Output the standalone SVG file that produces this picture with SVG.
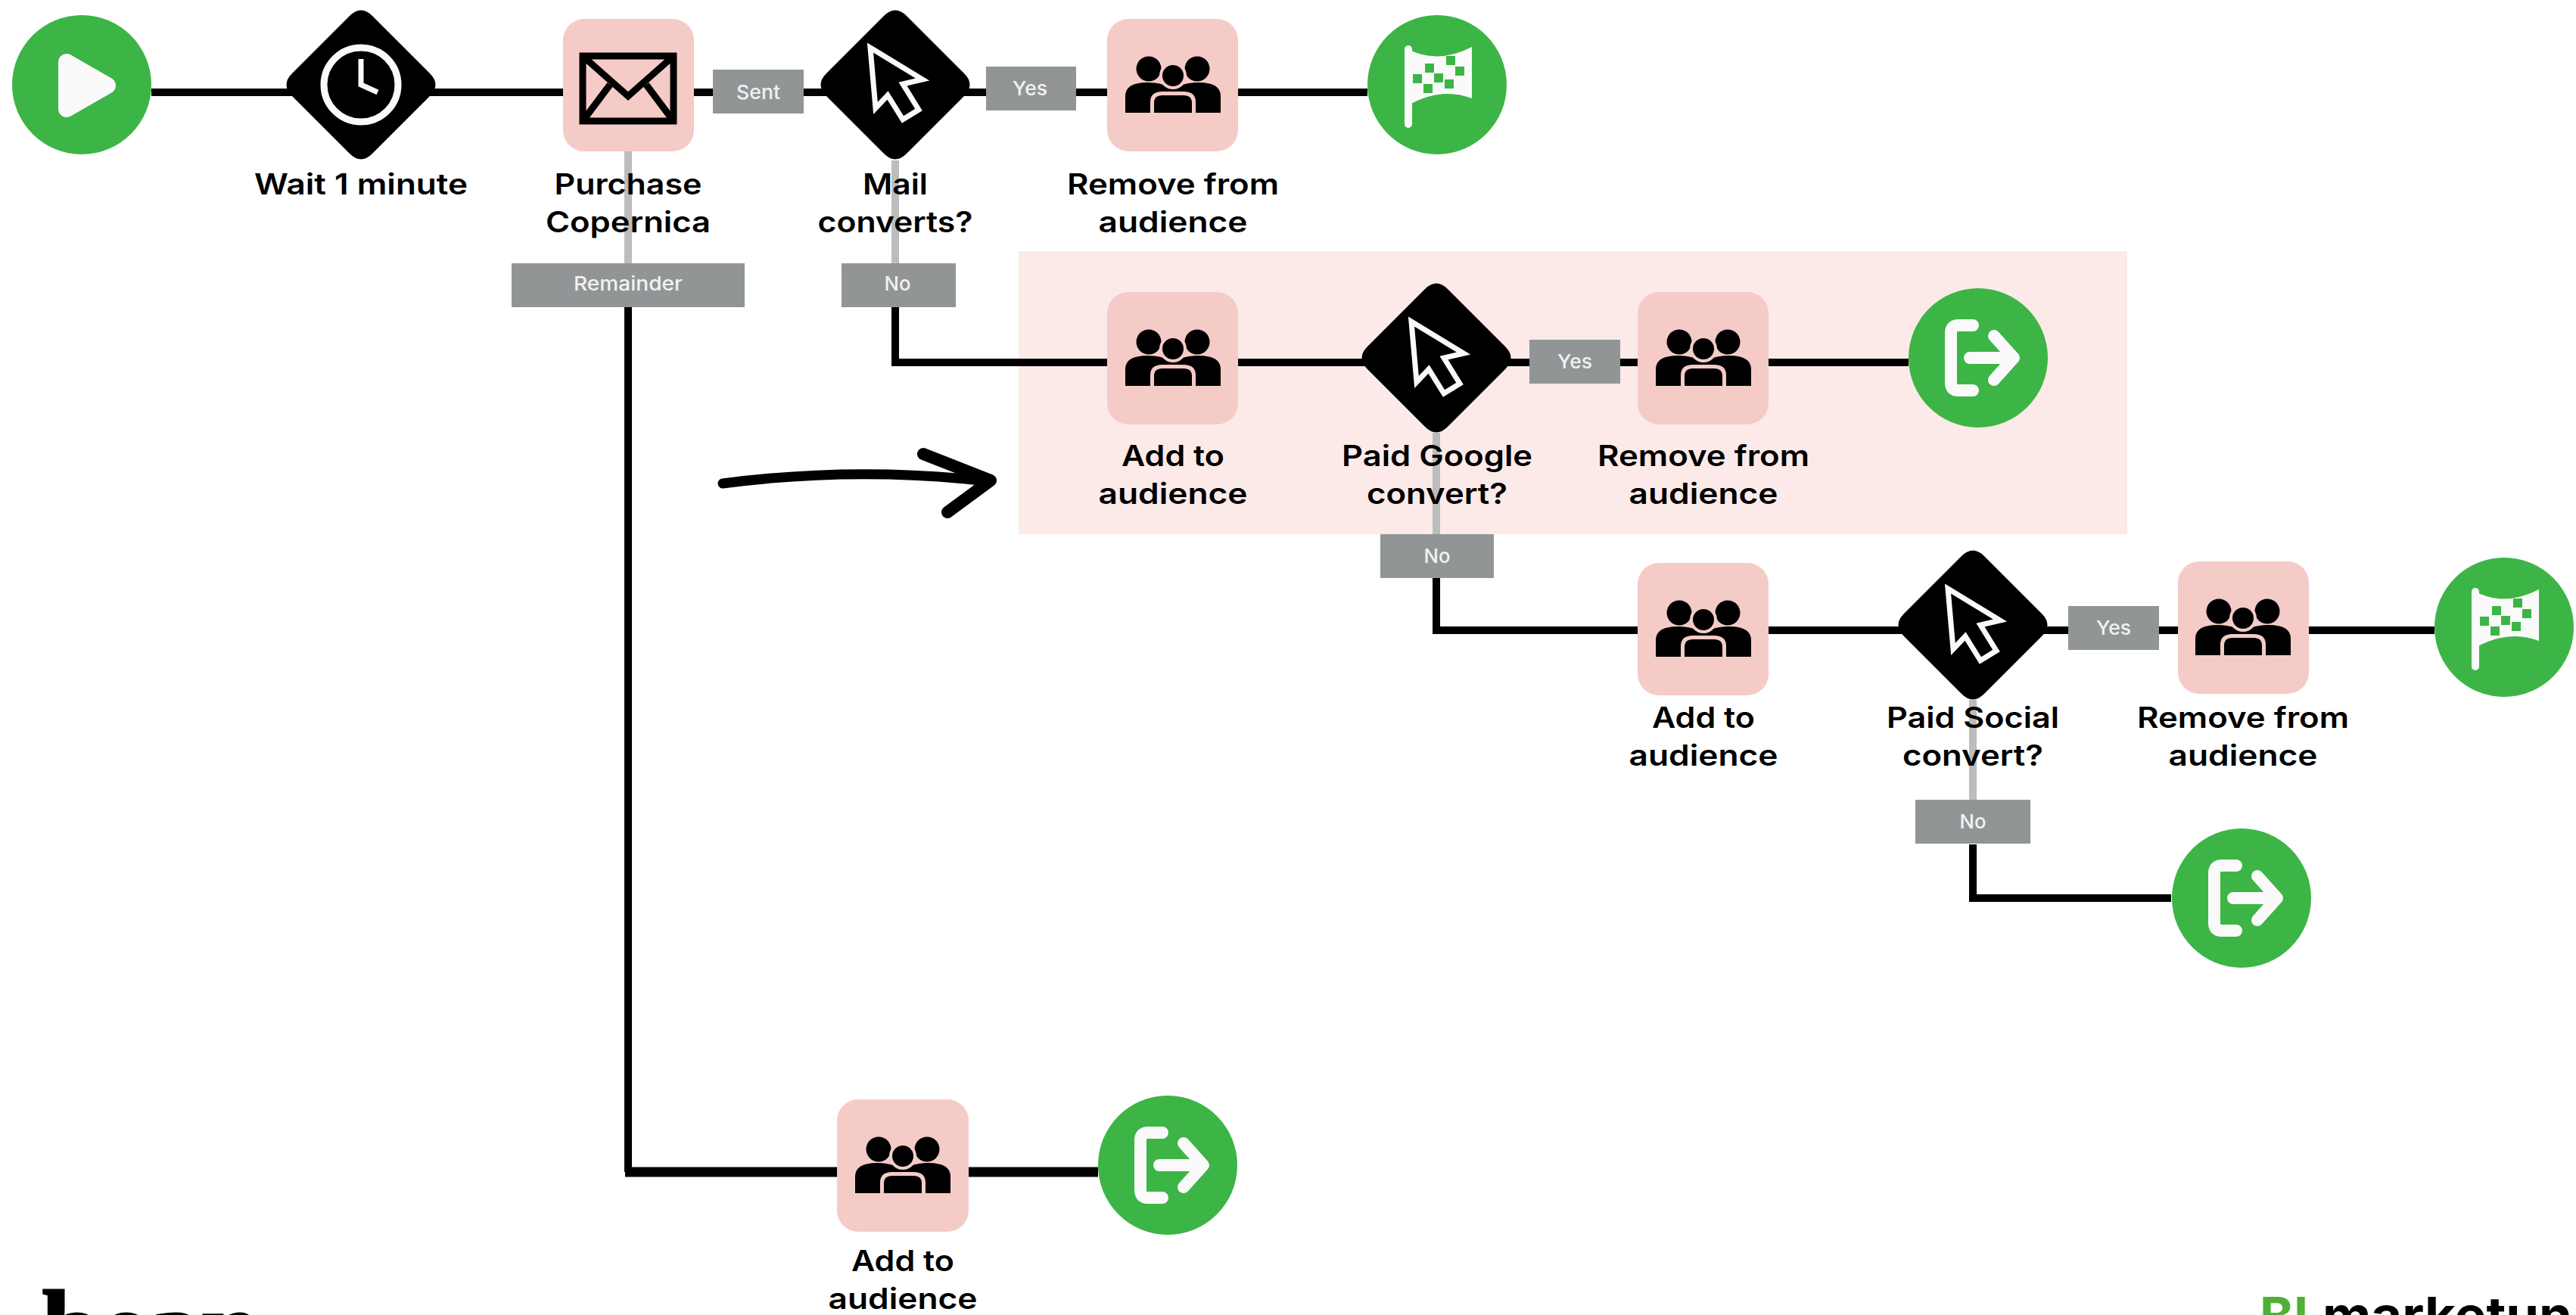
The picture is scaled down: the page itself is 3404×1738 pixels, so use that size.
<svg xmlns="http://www.w3.org/2000/svg" width="3404" height="1738" viewBox="0 0 3404 1738">
<style>
.lbl{font-family:"Inter","Liberation Sans",sans-serif;font-weight:600;font-size:38px;fill:#000;text-anchor:middle}
.tag{font-family:"Inter","Liberation Sans",sans-serif;font-weight:500;font-size:26px;fill:#f2f2f2;text-anchor:middle}
.box{fill:#919596}
.act{fill:#f5cbc7}
.go{fill:#3cb546}
.k{fill:none;stroke:#000;stroke-width:10}
.g{fill:none;stroke:#bcbcbc;stroke-width:10}
.w{fill:none;stroke:#fafafa;stroke-linecap:round;stroke-linejoin:round}
</style>
<defs>
<path id="dia" d="M-15,-91Q0,-106 15,-91L91,-15Q106,0 91,15L15,91Q0,106 -15,91L-91,15Q-106,0 -91,-15Z" fill="#000"/>
<g id="people" fill="#000">
<circle cx="-32" cy="-22" r="16.500"/><circle cx="32" cy="-22" r="16.500"/>
<path d="M-63,36V14Q-63,-4 -34,-4Q-20,-4 -10,0L10,0Q20,-4 34,-4Q63,-4 63,14V36Z"/>
<path d="M-30,38V22Q-30,8 -14,8H14Q30,8 30,22V38Z" fill="#f5cbc7"/>
<path d="M-25,36V23Q-25,13 -14,13H14Q25,13 25,23V36Z"/>
<circle cx="0" cy="-13" r="16" stroke="#f5cbc7" stroke-width="4"/>
</g>
<path id="cursor" d="M-33,-49L36,-7L10,-1L31,33L10,46L-10,14L-26,31Z" fill="#000" stroke="#fafafa" stroke-width="7" stroke-linejoin="miter"/>
<g id="exit"><path class="w" stroke-width="16" d="M-7,-43H-26Q-36,-43 -36,-33V33Q-36,43 -26,43H-7"/><path class="w" stroke-width="16" d="M-11,0H46M21,-29L47,0L21,29"/></g>
<g id="flag"><path d="M-38,-47V52" class="w" stroke-width="10"/><path d="M-40,-48Q0,-26 46,-50V18Q5,2 -40,28Z" fill="#fafafa"/>
<g fill="#3cb546"><rect x="-16" y="-28" width="12" height="12"/><rect x="-32" y="-14" width="12" height="12"/><rect x="-18" y="-1" width="12" height="12"/><rect x="-4" y="-15" width="12" height="12"/><rect x="12" y="-38" width="12" height="12"/><rect x="24" y="-24" width="12" height="12"/><rect x="10" y="-7" width="12" height="12"/></g></g>
</defs>
<rect width="3404" height="1738" fill="#fff"/>
<rect x="1346" y="332" width="1465" height="374" fill="#fbeae8"/>
<g id="connectors">
<path class="k" d="M200,122H744M917,122H1463M1636,122H1807"/>
<path class="g" d="M830,200V348M1183,212V348M1898,572V706M2607,925V1057"/>
<path class="k" d="M830,406V1549"/>
<path class="k" style="stroke-width:13" d="M826,1549H1451"/>
<path class="k" d="M1183,406V479H2522"/>
<path class="k" d="M1898,764V833H3217"/>
<path class="k" d="M2607,1116V1187H2869"/>
</g>
<g id="start"><circle class="go" cx="108" cy="112" r="92"/><path d="M88,82V144L142,113Z" fill="#fafafa" stroke="#fafafa" stroke-width="22" stroke-linejoin="round"/></g>
<g id="wait"><use href="#dia" x="477" y="112"/><circle cx="477" cy="112" r="49" fill="none" stroke="#fafafa" stroke-width="9"/><path d="M477,78V112L499,122" fill="none" stroke="#fafafa" stroke-width="7"/><text class="lbl" x="477" y="257" textLength="282" lengthAdjust="spacingAndGlyphs">Wait 1 minute</text></g>
<g id="purchase"><rect class="act" x="744" y="25" width="173" height="175" rx="28"/><path d="M770,74H890V160H770ZM770,74L830,127L890,74M770,160L806,112M890,160L854,112" fill="none" stroke="#000" stroke-width="9"/><text class="lbl" x="830" y="257" textLength="195" lengthAdjust="spacingAndGlyphs">Purchase</text><text class="lbl" x="830" y="307" textLength="218" lengthAdjust="spacingAndGlyphs">Copernica</text></g>
<g id="tag-sent"><rect class="box" x="942" y="92" width="120" height="58"/><text class="tag" x="1002" y="131" textLength="58" lengthAdjust="spacingAndGlyphs">Sent</text></g>
<g id="tag-remainder"><rect class="box" x="676" y="348" width="308" height="58"/><text class="tag" x="830" y="384" textLength="144" lengthAdjust="spacingAndGlyphs">Remainder</text></g>
<g id="mail"><use href="#dia" x="1183" y="112"/><use href="#cursor" x="1183" y="112"/><text class="lbl" x="1183" y="257" textLength="86" lengthAdjust="spacingAndGlyphs">Mail</text><text class="lbl" x="1183" y="307" textLength="205" lengthAdjust="spacingAndGlyphs">converts?</text></g>
<g id="tag-yes1"><rect class="box" x="1303" y="88" width="119" height="58"/><text class="tag" x="1361" y="126" textLength="46" lengthAdjust="spacingAndGlyphs">Yes</text></g>
<g id="tag-no1"><rect class="box" x="1112" y="348" width="151" height="58"/><text class="tag" x="1186" y="384" textLength="35" lengthAdjust="spacingAndGlyphs">No</text></g>
<g id="remove1"><rect class="act" x="1463" y="25" width="173" height="175" rx="28"/><use href="#people" x="1550" y="113"/><text class="lbl" x="1550" y="257" textLength="280" lengthAdjust="spacingAndGlyphs">Remove from</text><text class="lbl" x="1550" y="307" textLength="197" lengthAdjust="spacingAndGlyphs">audience</text></g>
<g id="finish1"><circle class="go" cx="1899" cy="112" r="92"/><use href="#flag" x="1899" y="112"/></g>
<g id="add1"><rect class="act" x="1463" y="386" width="173" height="175" rx="28"/><use href="#people" x="1550" y="474"/><text class="lbl" x="1550" y="616" textLength="136" lengthAdjust="spacingAndGlyphs">Add to</text><text class="lbl" x="1550" y="666" textLength="197" lengthAdjust="spacingAndGlyphs">audience</text></g>
<g id="google"><use href="#dia" x="1898" y="473"/><use href="#cursor" x="1898" y="474"/><text class="lbl" x="1899" y="616" textLength="252" lengthAdjust="spacingAndGlyphs">Paid Google</text><text class="lbl" x="1899" y="666" textLength="186" lengthAdjust="spacingAndGlyphs">convert?</text></g>
<g id="tag-yes2"><rect class="box" x="2021" y="449" width="120" height="58"/><text class="tag" x="2081" y="487" textLength="46" lengthAdjust="spacingAndGlyphs">Yes</text></g>
<g id="tag-no2"><rect class="box" x="1824" y="706" width="150" height="58"/><text class="tag" x="1899" y="744" textLength="35" lengthAdjust="spacingAndGlyphs">No</text></g>
<g id="remove2"><rect class="act" x="2164" y="386" width="173" height="175" rx="28"/><use href="#people" x="2251" y="474"/><text class="lbl" x="2251" y="616" textLength="280" lengthAdjust="spacingAndGlyphs">Remove from</text><text class="lbl" x="2251" y="666" textLength="197" lengthAdjust="spacingAndGlyphs">audience</text></g>
<g id="exit1"><circle class="go" cx="2614" cy="473" r="92"/><use href="#exit" x="2614" y="473"/></g>
<g id="add2"><rect class="act" x="2164" y="744" width="173" height="175" rx="28"/><use href="#people" x="2251" y="832"/><text class="lbl" x="2251" y="962" textLength="136" lengthAdjust="spacingAndGlyphs">Add to</text><text class="lbl" x="2251" y="1012" textLength="197" lengthAdjust="spacingAndGlyphs">audience</text></g>
<g id="social"><use href="#dia" x="2607" y="826"/><use href="#cursor" x="2607" y="827"/><text class="lbl" x="2607" y="962" textLength="228" lengthAdjust="spacingAndGlyphs">Paid Social</text><text class="lbl" x="2607" y="1012" textLength="186" lengthAdjust="spacingAndGlyphs">convert?</text></g>
<g id="tag-yes3"><rect class="box" x="2733" y="801" width="120" height="58"/><text class="tag" x="2793" y="839" textLength="46" lengthAdjust="spacingAndGlyphs">Yes</text></g>
<g id="tag-no3"><rect class="box" x="2531" y="1057" width="152" height="58"/><text class="tag" x="2607" y="1095" textLength="35" lengthAdjust="spacingAndGlyphs">No</text></g>
<g id="remove3"><rect class="act" x="2878" y="742" width="173" height="175" rx="28"/><use href="#people" x="2964" y="830"/><text class="lbl" x="2964" y="962" textLength="280" lengthAdjust="spacingAndGlyphs">Remove from</text><text class="lbl" x="2964" y="1012" textLength="197" lengthAdjust="spacingAndGlyphs">audience</text></g>
<g id="finish2"><circle class="go" cx="3309" cy="829" r="92"/><use href="#flag" x="3309" y="829"/></g>
<g id="exit2"><circle class="go" cx="2962" cy="1187" r="92"/><use href="#exit" x="2962" y="1187"/></g>
<g id="add3"><rect class="act" x="1106" y="1453" width="174" height="175" rx="28"/><use href="#people" x="1193" y="1541"/><text class="lbl" x="1193" y="1680" textLength="136" lengthAdjust="spacingAndGlyphs">Add to</text><text class="lbl" x="1193" y="1730" textLength="197" lengthAdjust="spacingAndGlyphs">audience</text></g>
<g id="exit3"><circle class="go" cx="1543" cy="1540" r="92"/><use href="#exit" x="1543" y="1540"/></g>
<g id="note-arrow" fill="none" stroke="#000" stroke-linecap="round" stroke-linejoin="round"><path d="M955,639Q1130,616 1305,636" stroke-width="13"/><path d="M1220,600L1309,635L1252,677" stroke-width="16"/></g>
<text id="logo-left" x="56" y="1802" font-family="'Liberation Serif',serif" font-weight="700" font-size="140" stroke="#000" stroke-width="3" textLength="287" lengthAdjust="spacingAndGlyphs">bean</text>
<text id="logo-right" x="2986" y="1763" font-family="Inter,'Liberation Sans',sans-serif" font-weight="700" font-size="68"><tspan fill="#4fb135">BI</tspan></text>
<text x="3069" y="1763" font-family="Inter,'Liberation Sans',sans-serif" font-weight="700" font-size="68" fill="#000" textLength="330" lengthAdjust="spacingAndGlyphs">marketun</text>
</svg>
